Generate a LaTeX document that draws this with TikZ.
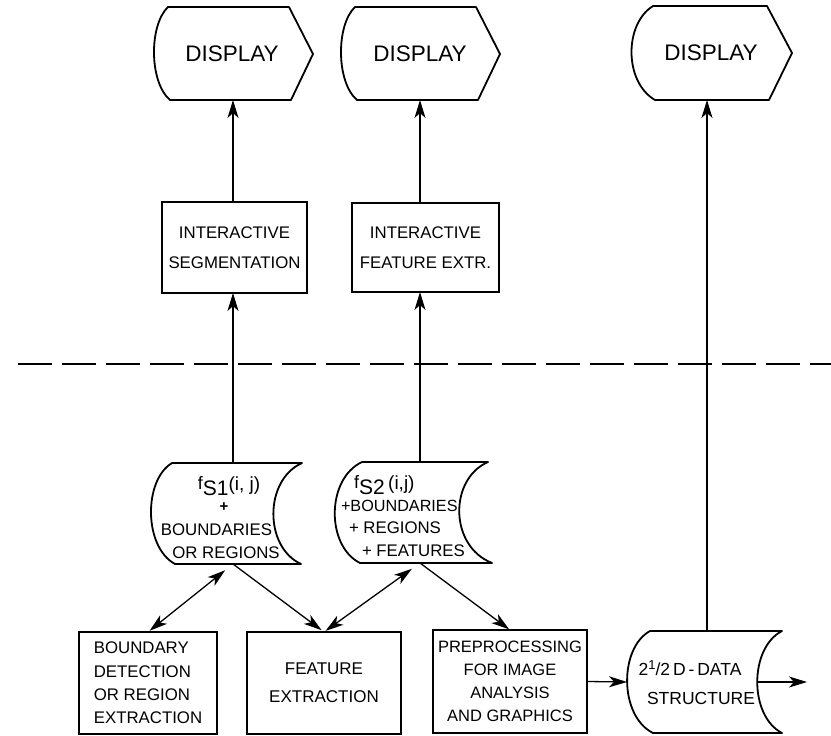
\documentclass[tikz,border=0pt]{standalone}
\usepackage{fontspec}
\setmainfont{Liberation Sans}
\usetikzlibrary{arrows.meta}
\begin{document}
\begin{tikzpicture}[x=1pt,y=-1pt,
  outline/.style={draw=black, line width=1.8pt, line join=round},
  ghost/.style={inner sep=0pt, outer sep=0pt},
  boxnode/.style={draw=black, line width=1.8pt, inner sep=0pt, outer sep=0pt, align=center},
  dispfont/.style={font=\fontsize{22.5}{26}\selectfont},
  txt/.style={font=\fontsize{16.8}{23}\selectfont},
  arr/.style={-{Stealth[length=18pt,width=11pt,inset=5pt]}, line width=1.3pt},
  darr/.style={{Stealth[length=18pt,width=11pt,inset=5pt]}-{Stealth[length=18pt,width=11pt,inset=5pt]}, line width=1.3pt, shorten <=10pt, shorten >=2pt},
  dashline/.style={line width=1.6pt, dash pattern=on 34pt off 10pt}
]
\useasboundingbox (0,0) rectangle (831,736);

% ---------- display shapes ----------
\draw[outline] (168,7) -- (289,7) -- (313,54) -- (291,100) -- (170,100)
  .. controls (149,82) and (149,25) .. (168,7) -- cycle;
\draw[outline] (355,7) -- (476,7) -- (500,54) -- (478,100) -- (357,100)
  .. controls (336,82) and (336,25) .. (355,7) -- cycle;
\draw[outline] (653,6) -- (767,6) -- (792,53) -- (769,100) -- (655,100)
  .. controls (624,82) and (624,24) .. (653,6) -- cycle;
\node[ghost, dispfont, minimum width=160pt, minimum height=93pt] (disp1) at (232,53.5) {DISPLAY};
\node[ghost, dispfont, minimum width=160pt, minimum height=93pt] (disp2) at (420,53.5) {DISPLAY};
\node[ghost, dispfont, minimum width=162pt, minimum height=94pt] (disp3) at (711,53) {DISPLAY};

% ---------- interactive boxes ----------
\node[boxnode, txt, font=\fontsize{16.8}{29.5}\selectfont, minimum width=145pt, minimum height=91pt] (box1) at (234.5,247.5) {INTERACTIVE\\SEGMENTATION};
\node[boxnode, txt, font=\fontsize{16.8}{29.5}\selectfont, minimum width=147pt, minimum height=89pt] (box2) at (425.5,247.5) {INTERACTIVE\\FEATURE EXTR.};

% ---------- stored data shapes ----------
\draw[outline] (172,463) -- (302,463) .. controls (264,480) and (264,547) .. (301,564)
  -- (175,564) .. controls (143.5,547) and (143.5,480) .. (172,463) -- cycle;
\draw[outline] (362,462) -- (488,462) .. controls (449,479) and (449,546) .. (492,563)
  -- (360,563) .. controls (326,546) and (326,479) .. (362,462) -- cycle;
\draw[outline] (650,631) -- (782,631) .. controls (749,648) and (749,716) .. (782,733)
  -- (653,733) .. controls (619,716) and (619,648) .. (650,631) -- cycle;
\node[ghost, minimum width=151pt, minimum height=101pt] (fs1) at (226.5,513.5) {};
\node[ghost, minimum width=157pt, minimum height=101pt] (fs2) at (413.5,512.5) {};
\node[ghost, minimum width=155pt, minimum height=102pt] (ds) at (704.5,682) {};

% texts of stored data
\node[ghost, anchor=base, font=\fontsize{21}{24}\selectfont] (fs1a) at (229,495)
  {\raisebox{6pt}{\fontsize{18}{18}\selectfont f}S1\raisebox{5pt}{\fontsize{19}{19}\selectfont(i, j)}};
\node[ghost, font=\fontsize{15}{15}\selectfont\bfseries] (fs1b) at (224,507) {+};
\node[ghost, txt, anchor=base] (fs1c) at (216.5,535) {BOUNDARIES};
\node[ghost, txt, anchor=base] (fs1d) at (226,558) {OR REGIONS};

\node[ghost, anchor=base west, font=\fontsize{21}{24}\selectfont] (fs2a) at (354,494)
  {\raisebox{6pt}{\fontsize{18}{18}\selectfont f}S2\,\raisebox{5pt}{\fontsize{19}{19}\selectfont(i,j)}};
\node[ghost, txt, font=\fontsize{16.2}{20}\selectfont, anchor=base west] (fs2b) at (341,511) {+BOUNDARIES};
\node[ghost, txt, anchor=base west] (fs2c) at (349,533) {+ REGIONS};
\node[ghost, txt, anchor=base west] (fs2d) at (362,556) {+ FEATURES};

\node[ghost, txt, font=\fontsize{17.5}{20}\selectfont, anchor=base] (dst1) at (690,675)
  {2\raisebox{6pt}{\fontsize{13}{13}\selectfont 1}/2\,D\,-\,DATA};
\node[ghost, txt, font=\fontsize{17.5}{20}\selectfont, anchor=base] (dst2) at (701,704) {STRUCTURE};

% ---------- bottom boxes ----------
\node[boxnode, txt, align=left, font=\fontsize{16.8}{23.3}\selectfont, minimum width=138pt, minimum height=102pt] (bb1) at (148,683)
  {BOUNDARY\\DETECTION\\OR REGION\\EXTRACTION};
\node[boxnode, txt, font=\fontsize{17}{28}\selectfont, minimum width=154pt, minimum height=102pt] (bb2) at (324,683)
  {FEATURE\\EXTRACTION};
\node[boxnode, txt, font=\fontsize{16.5}{23}\selectfont, minimum width=154pt, minimum height=103pt] (bb3) at (510,681.5)
  {PREPROCESSING\\FOR IMAGE\\ANALYSIS\\AND GRAPHICS};

% ---------- column coordinates ----------
\coordinate (col1) at (233,0);
\coordinate (col2) at (420,0);
\coordinate (col3) at (707,0);
\coordinate (apex1) at (fs1.south -| col1);
\coordinate (apex2) at (fs2.south -| col2);
\coordinate (dsin) at ([xshift=-25pt]ds.east);
\coordinate (dsout) at (807,682);
\coordinate (dashL) at (18,364);
\coordinate (dashR) at (831,364);

% ---------- dashed separator ----------
\draw[dashline] (dashL) -- (dashR);

% ---------- connectors ----------
\draw[arr] (box1.north -| col1) -- (disp1.south -| col1);
\draw[arr] (box2.north -| col2) -- (disp2.south -| col2);
\draw[arr] (fs1.north -| col1) -- (box1.south -| col1);
\draw[arr] (fs2.north -| col2) -- (box2.south -| col2);
\draw[arr] (ds.north -| col3) -- (disp3.south -| col3);

\draw[darr] (apex1) -- (bb1.north);
\draw[arr, shorten >=3pt] (apex1) -- (bb2.north);
\draw[darr] (apex2) -- (bb2.north);
\draw[arr, shorten >=1pt] (apex2) -- (bb3.north);

\draw[arr] (bb3.east) -- (ds.west);
\draw[arr] (dsin) -- (dsout);
\end{tikzpicture}
\end{document}
